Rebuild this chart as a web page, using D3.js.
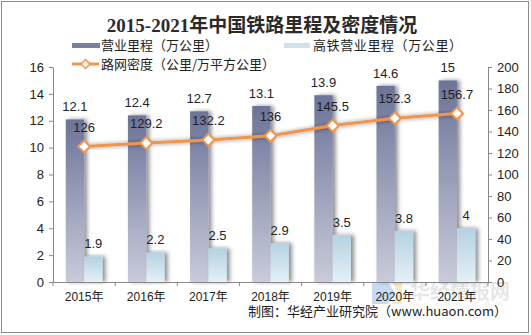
<!DOCTYPE html>
<html><head><meta charset="utf-8">
<script src="https://cdn.jsdelivr.net/npm/d3@7"></script>
<style>body{margin:0;background:#fff}svg{display:block}</style>
</head><body>
<script>
const years = ["2015年","2016年","2017年","2018年","2019年","2020年","2021年"];
const mileage = [12.1,12.4,12.7,13.1,13.9,14.6,15];
const hsr = [1.9,2.2,2.5,2.9,3.5,3.8,4];
const density = [126,129.2,132.2,136,145.5,152.3,156.7];
const leftTicks = [0,2,4,6,8,10,12,14,16];
const rightTicks = [0,20,40,60,80,100,120,140,160,180,200];

const W=531,H=335;
const svg=d3.select("body").append("svg").attr("width",W).attr("height",H);
const defs=svg.append("defs");
const g1=defs.append("linearGradient").attr("id","gDark").attr("x1",0).attr("y1",0).attr("x2",0).attr("y2",1);
g1.append("stop").attr("offset",0).attr("stop-color","#6c7398");
g1.append("stop").attr("offset",1).attr("stop-color","#c9cbda");
const g2=defs.append("linearGradient").attr("id","gLight").attr("x1",0).attr("y1",0).attr("x2",0).attr("y2",1);
g2.append("stop").attr("offset",0).attr("stop-color","#b4d2e0");
g2.append("stop").attr("offset",1).attr("stop-color","#e4f0f6");
const f=defs.append("filter").attr("id","sh").attr("x","-20%").attr("y","-10%").attr("width","160%").attr("height","120%");
f.append("feDropShadow").attr("dx",3).attr("dy",0).attr("stdDeviation",2).attr("flood-color","#000").attr("flood-opacity",0.45);

svg.append("rect").attr("x",1.5).attr("y",1.5).attr("width",W-4).attr("height",H-4).attr("fill","#fff").attr("stroke","#8c8c8c");

const x=d3.scaleBand().domain(years).range([53,488]).paddingInner(0);
const yL=d3.scaleLinear().domain([0,16]).range([282,67]);
const yR=d3.scaleLinear().domain([0,200]).range([282,67]);
const bw=18.3;
const font="'Liberation Sans',Arial,'Noto Sans CJK SC',sans-serif";

// watermark
const wm=svg.append("g").attr("opacity",0.45);
wm.append("path").attr("d","M372,282 L388,282 L395,293 L388,304 L372,304 Z").attr("fill","#7fb0e8");
wm.append("path").attr("d","M392,282 L402,282 L402,304 L392,304 L398,293 Z").attr("fill","#f3d36b");
wm.append("text").attr("x",410).attr("y",299).text("华经情报网").attr("font-family","'Noto Sans CJK SC'").attr("font-weight","bold").attr("font-size",20).attr("fill","#c8c8c8");
wm.append("text").attr("x",414).attr("y",306).text("huaon.com").attr("font-family",font).attr("font-size",8).attr("letter-spacing",6).attr("fill","#d0d0d0");

// bars
const bars=svg.append("g");
bars.selectAll("rect.d").data(mileage).join("rect").attr("class","d")
 .attr("x",(d,i)=>x(years[i])+x.bandwidth()/2-bw).attr("width",bw)
 .attr("y",d=>yL(d)).attr("height",d=>yL(0)-yL(d)).attr("fill","url(#gDark)").attr("filter","url(#sh)");
bars.selectAll("rect.l").data(hsr).join("rect").attr("class","l")
 .attr("x",(d,i)=>x(years[i])+x.bandwidth()/2).attr("width",bw)
 .attr("y",d=>yL(d)).attr("height",d=>yL(0)-yL(d)).attr("fill","url(#gLight)").attr("filter","url(#sh)");

// axes
const axL=svg.append("g").attr("transform","translate(53,0)").call(d3.axisLeft(yL).tickValues(leftTicks).tickSize(4).tickSizeOuter(0).tickPadding(5));
const axR=svg.append("g").attr("transform","translate(488,0)").call(d3.axisRight(yR).tickValues(rightTicks).tickSize(4).tickSizeOuter(0).tickPadding(5));
const axB=svg.append("g").attr("transform","translate(0,282)").call(d3.axisBottom(x).tickSize(0).tickPadding(10));
// category separators
svg.append("g").selectAll("line").data(years.concat(["end"])).join("line")
 .attr("x1",(d,i)=>53+i*x.bandwidth()).attr("x2",(d,i)=>53+i*x.bandwidth())
 .attr("y1",282).attr("y2",286).attr("stroke","#888");
[axL,axR,axB].forEach(a=>{a.selectAll("path,line").attr("stroke","#888");a.selectAll("text").attr("font-family",font).attr("font-size",13).attr("fill","#222");});
axB.selectAll("text").attr("font-size",12);

// line
const line=d3.line().x((d,i)=>x(years[i])+x.bandwidth()/2).y(d=>yR(d));
svg.append("path").datum(density).attr("d",line).attr("fill","none").attr("stroke","#f0954c").attr("stroke-width",3).attr("filter","url(#sh)");
svg.append("g").selectAll("path").data(density).join("path")
 .attr("transform",(d,i)=>`translate(${x(years[i])+x.bandwidth()/2},${yR(d)})`)
 .attr("d","M0,-6 L6,0 L0,6 L-6,0 Z").attr("fill","#fff").attr("stroke","#f0954c").attr("stroke-width",2);

// labels
const lab=svg.append("g").attr("font-family",font).attr("font-size",13).attr("fill","#222").attr("text-anchor","middle");
lab.selectAll("text.d").data(mileage).join("text").attr("class","d")
 .attr("x",(d,i)=>x(years[i])+x.bandwidth()/2-bw/2).attr("y",d=>yL(d)-8).text(d=>d);
lab.selectAll("text.l").data(hsr).join("text").attr("class","l")
 .attr("x",(d,i)=>x(years[i])+x.bandwidth()/2+bw/2).attr("y",d=>yL(d)-8).text(d=>d);
lab.selectAll("text.r").data(density).join("text").attr("class","r")
 .attr("x",(d,i)=>x(years[i])+x.bandwidth()/2).attr("y",d=>yR(d)-15).text(d=>d);

// title
svg.append("text").attr("x",262).attr("y",32).attr("text-anchor","middle")
 .attr("font-family","'Liberation Serif','Noto Sans CJK SC',serif").attr("font-weight","bold").attr("font-size",19).attr("fill","#2a2a2a")
 .text("2015-2021年中国铁路里程及密度情况");

// legend
const lg=svg.append("g").attr("font-family","'Noto Sans CJK SC',sans-serif").attr("font-size",13).attr("fill","#222");
lg.append("rect").attr("x",72).attr("y",43).attr("width",28).attr("height",5).attr("fill","#7980a2");
lg.append("text").attr("x",101).attr("y",50).text("营业里程（万公里）");
lg.append("rect").attr("x",284).attr("y",43).attr("width",26).attr("height",5).attr("fill","#cfe3ec");
lg.append("text").attr("x",313).attr("y",50).attr("letter-spacing",0.6).text("高铁营业里程（万公里）");
lg.append("line").attr("x1",72).attr("x2",99).attr("y1",64).attr("y2",64).attr("stroke","#f0954c").attr("stroke-width",3);
lg.append("path").attr("transform","translate(85.5,64)").attr("d","M0,-4.5 L4.5,0 L0,4.5 L-4.5,0 Z").attr("fill","#fff").attr("stroke","#f0954c").attr("stroke-width",1.5);
lg.append("text").attr("x",101).attr("y",69).text("路网密度（公里/万平方公里）");

// footer
svg.append("text").attr("x",507).attr("y",316).attr("text-anchor","end")
 .attr("font-family","'Noto Sans CJK SC',sans-serif").attr("font-size",13).attr("fill","#222")
 .text("制图：华经产业研究院（www.huaon.com）");
</script>
</body></html>
